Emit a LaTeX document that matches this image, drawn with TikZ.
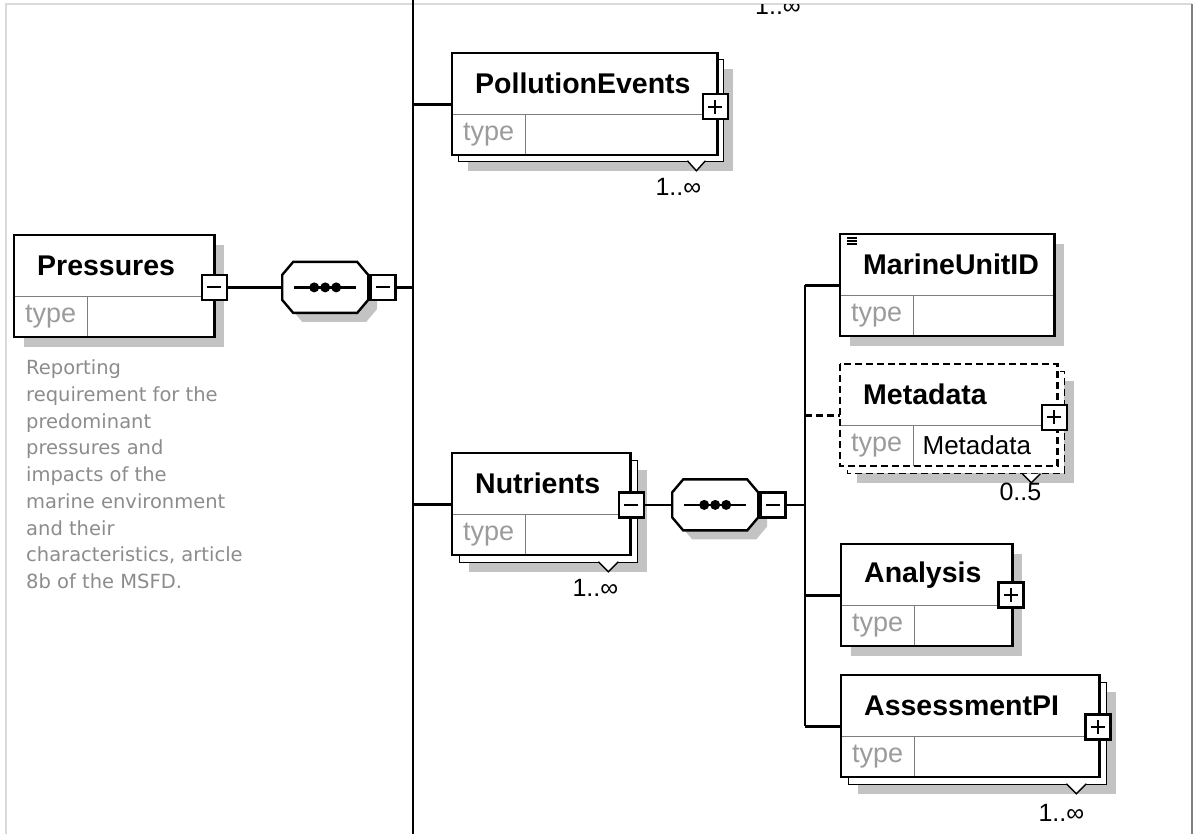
\documentclass[tikz,border=0pt]{standalone}
\usepackage{fontspec}
\setmainfont{Liberation Sans}
\newfontfamily\notefont{DejaVu Sans}
\usetikzlibrary{positioning,backgrounds}

\definecolor{shadowgray}{RGB}{195,195,195}
\definecolor{typegray}{RGB}{155,155,155}
\definecolor{notegray}{RGB}{140,140,140}
\definecolor{rulegray}{RGB}{125,125,125}
\definecolor{edgegray}{RGB}{218,218,218}

\begin{document}
\begin{tikzpicture}[x=1pt,y=-1pt,line width=2.4pt,
  hdr/.style={anchor=north west,inner xsep=22pt,inner ysep=0pt,align=left,
    minimum height=59pt,font=\fontsize{28.5}{32}\selectfont\bfseries},
  tcell/.style={anchor=north west,inner sep=0pt,minimum width=71pt,
    minimum height=38pt,text=typegray,font=\fontsize{27}{30}\selectfont},
  rule/.style={draw=rulegray,line width=1.6pt},
  opt/.style={dash pattern=on 7pt off 4pt},
  card/.style={anchor=north east,inner sep=0pt,font=\fontsize{25}{28}\selectfont},
  pm/.style={draw,fill=white,inner sep=0pt,minimum size=25pt,line width=2.2pt},
  minus/.style={pm,path picture={\draw[line width=2pt]
    ([xshift=-7pt]path picture bounding box.center) -- ([xshift=7pt]path picture bounding box.center);}},
  plus/.style={pm,path picture={\draw[line width=2pt]
    ([xshift=-7pt]path picture bounding box.center) -- ([xshift=7pt]path picture bounding box.center)
    ([yshift=-7pt]path picture bounding box.center) -- ([yshift=7pt]path picture bounding box.center);}},
  seq/.style={rectangle,minimum width=86pt,minimum height=51pt,inner sep=0pt},
  note/.style={anchor=north west,inner sep=0pt,align=left,text=notegray,
    font=\notefont\fontsize{19.5}{26.7}\selectfont},
  tri/.style={fill=white,draw=black,line width=1.4pt}
]
  \useasboundingbox (0,0) rectangle (1200,834);

  % page edges
  \draw[edgegray,line width=1.2pt] (6,834) -- (6,4) -- (1192,4);
  \draw[gray,line width=2.5pt] (1192,4) -- (1192,834);

  % root element
  \node[hdr,text width=154pt] (press) at (14,235) {Pressures};
  \node[tcell] (press-t) at (press.south west) {type};
  \node[note] (press-doc) at ([xshift=11pt,yshift=-22pt]press-t.south west)
    {Reporting\\requirement for the\\predominant\\pressures and\\impacts of the\\
     marine environment\\and their\\characteristics, article\\8b of the MSFD.};

  % children of the first sequence
  \node[hdr,text width=219pt] (pollu) at (452,53) {PollutionEvents};
  \node[tcell] (pollu-t) at (pollu.south west) {type};
  \node[hdr,text width=132pt] (nutri) at (452,453) {Nutrients};
  \node[tcell] (nutri-t) at (nutri.south west) {type};

  % children of Nutrients
  \node[hdr,text width=168pt] (mrid) at (840,234) {MarineUnitID};
  \node[tcell] (mrid-t) at (mrid.south west) {type};
  \node[hdr,text width=171pt] (meta) at (840,364) {Metadata};
  \node[tcell] (meta-t) at (meta.south west) {type};
  \node[anchor=west,inner sep=0pt,font=\fontsize{26}{30}\selectfont] (meta-tt)
    at ([xshift=8pt]meta-t.east) {Metadata};
  \node[hdr,text width=125pt] (anal) at (841,544) {Analysis};
  \node[tcell] (anal-t) at (anal.south west) {type};
  \node[hdr,text width=212pt] (asspi) at (841,675) {AssessmentPI};
  \node[tcell] (asspi-t) at (asspi.south west) {type};

  \foreach \n in {press,pollu,nutri,mrid,meta,anal,asspi}{
    \coordinate (\n-se) at (\n.south east |- \n-t.south);
    \coordinate (\n-in) at ([yshift=10pt]\n.south west);
  }

  % boxes
  \foreach \n in {press,pollu,nutri,mrid,anal,asspi}{
    \draw[rule] (\n.south west) -- (\n.south east);
    \draw[rule] (\n-t.north east) -- (\n-t.south east);
    \draw (\n.north west) rectangle (\n-se);
  }
  \draw[rule] (meta.south west) -- (meta.south east);
  \draw[rule] (meta-t.north east) -- (meta-t.south east);
  \draw[opt] (meta.north west) rectangle (meta-se);
  \foreach \k in {4,7,10}
    \draw[line width=1.4pt] ([shift={(7,\k)}]mrid.north west) -- ++(10,0);

  % expand buttons
  \node[minus] (press-m) at ([yshift=9pt]press.south east) {};
  \node[plus] (pollu-p) at ([xshift=-2pt,yshift=7.5pt]pollu.south east) {};
  \node[minus] (nutri-m) at ([xshift=1pt,yshift=9.5pt]nutri.south east) {};
  \node[plus] (meta-p) at ([xshift=-3pt,yshift=8pt]meta.south east) {};
  \node[plus] (anal-p) at ([xshift=-1.5pt,yshift=10.5pt]anal.south east) {};
  \node[plus] (asspi-p) at ([xshift=-1.5pt,yshift=9.5pt]asspi.south east) {};

  % sequences
  \node[seq,right=53pt of press-m] (seq1) {};
  \node[minus,right=0pt of seq1] (seq1-m) {};
  \node[seq,right=26pt of nutri-m] (seq2) {};
  \node[minus,right=0pt of seq2] (seq2-m) {};
  \foreach \s in {seq1,seq2}{
    \filldraw[fill=white] ([shift={(-32,-25.5)}]\s.center) -- ++(64,0) -- ++(11,13)
      -- ++(0,25) -- ++(-11,13) -- ++(-64,0) -- ++(-11,-13) -- ++(0,-25) -- cycle;
    \draw ([xshift=-31pt]\s.center) -- ([xshift=31pt]\s.center);
    \foreach \k in {-11,0,11}
      \fill ([xshift=\k pt]\s.center) circle (5pt);
  }

  % shadows and back boxes
  \begin{scope}[on background layer]
    \foreach \n/\d in {press/0,pollu/6,nutri/7,mrid/0,anal/0,asspi/7}{
      \fill[shadowgray] ([shift={(\d+10,\d+10)}]\n.north west) rectangle ([shift={(\d+10,\d+10)}]\n-se);
      \filldraw[fill=white] ([shift={(\d,\d)}]\n.north west) rectangle ([shift={(\d,\d)}]\n-se);
      \fill[white] (\n.north west) rectangle (\n-se);
    }
    \fill[shadowgray] ([shift={(17,17)}]meta.north west) rectangle ([shift={(17,17)}]meta-se);
    \filldraw[fill=white,opt] ([shift={(7,7)}]meta.north west) rectangle ([shift={(7,7)}]meta-se);
    \fill[white] (meta.north west) rectangle (meta-se);
    \foreach \s in {seq1,seq2}
      \fill[shadowgray] ([shift={(-23,-16.5)}]\s.center) -- ++(64,0) -- ++(11,13)
        -- ++(0,25) -- ++(-11,13) -- ++(-64,0) -- ++(-11,-13) -- ++(0,-25) -- cycle;
  \end{scope}

  % occurrence marks
  \draw[tri] ([xshift=-30pt,yshift=-6pt]pollu-se) -- ++(9,10) -- ++(9,-10);
  \draw[tri] ([xshift=-32pt,yshift=-7pt]nutri-se) -- ++(10,10) -- ++(10,-10);
  \draw[tri] ([xshift=-35pt,yshift=-8pt]meta-se) -- ++(9,9) -- ++(9,-9);
  \draw[tri] ([xshift=-33pt,yshift=-7pt]asspi-se) -- ++(10,10) -- ++(10,-10);
  \node[card] (pollu-c) at ([xshift=-15pt,yshift=-22pt]pollu-se) {1..∞};
  \node[card] (nutri-c) at ([xshift=-11pt,yshift=-23pt]nutri-se) {1..∞};
  \node[card] (meta-c) at ([xshift=-15pt,yshift=-16pt]meta-se) {0..5};
  \node[card] (asspi-c) at ([xshift=-14pt,yshift=-26pt]asspi-se) {1..∞};
  \begin{scope}
    \clip (0,5) rectangle (1200,40);
    \node[card,anchor=base] (top-c) at (778,15) {1..∞};
  \end{scope}

  % connectors
  \coordinate (bus1-top) at (413,0);
  \coordinate (bus1-bot) at (413,834);
  \coordinate (bus2) at (805,504);
  \draw (bus1-top) -- (bus1-bot);
  \draw (press-m) -- (seq1);
  \draw (seq1-m) -- (seq1-m -| bus1-top);
  \draw (pollu-in -| bus1-top) -- (pollu-in);
  \draw (nutri-in -| bus1-top) -- (nutri-in);
  \draw (nutri-m) -- (seq2);
  \draw (seq2-m) -- (seq2-m -| bus2);
  \draw (mrid-in -| bus2) -- (asspi-in -| bus2);
  \draw (mrid-in -| bus2) -- (mrid-in);
  \draw[opt] (meta-in -| bus2) -- (meta-in);
  \draw (anal-in -| bus2) -- (anal-in);
  \draw (asspi-in -| bus2) -- (asspi-in);

\end{tikzpicture}
\end{document}
